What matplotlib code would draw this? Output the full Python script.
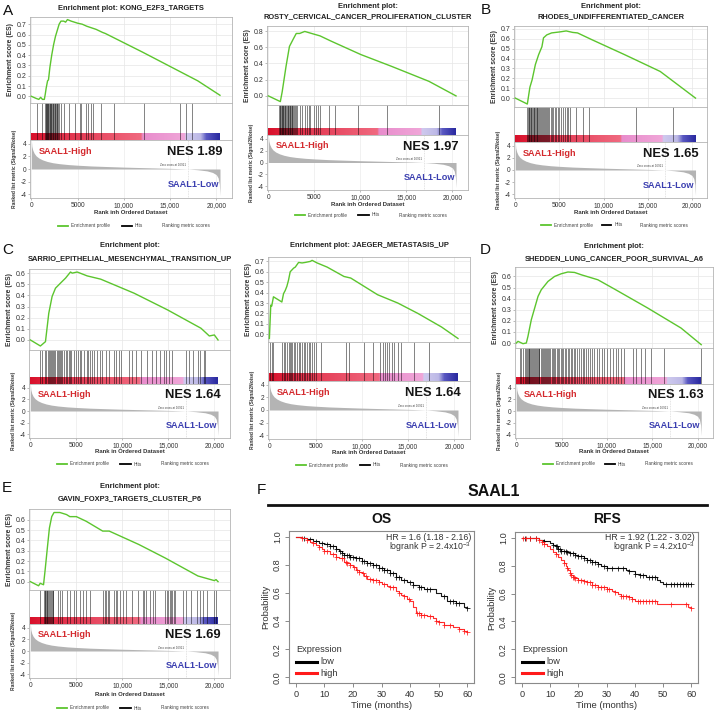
import numpy as np
import matplotlib
matplotlib.use('Agg')
import matplotlib.pyplot as plt
from matplotlib.colors import LinearSegmentedColormap
from matplotlib.lines import Line2D

plt.rcParams['font.family'] = ['Liberation Sans', 'DejaVu Sans']
plt.rcParams['mathtext.fontset'] = 'custom'
plt.rcParams['mathtext.rm'] = 'Liberation Sans'
plt.rcParams['mathtext.it'] = 'Liberation Sans:italic'
plt.rcParams['mathtext.bf'] = 'Liberation Sans:bold'

# ------------------------------------------------------------------ data
N_GENES = 20400
ZERO_CROSS = 16921
xtick_vals = [0, 5000, 10000, 15000, 20000]
xtick_labels = ['0', '5000', '10,000', '15,000', '20,000']

metric_rank = [0, 50, 150, 300, 500, 800, 1200, 1700, 2300, 3000, 4000, 5000, 6500,
               8000, 10000, 12000, 14000, 15500, 16921, 18000, 19000, 19600, 20000,
               20200, 20330, 20400]
metric_val = [4.6, 3.6, 3.0, 2.5, 2.1, 1.75, 1.45, 1.2, 1.0, 0.85, 0.7, 0.6, 0.48,
              0.4, 0.3, 0.22, 0.14, 0.08, 0.0, -0.12, -0.3, -0.55, -0.9,
              -1.4, -2.4, -4.2]

kong_x = [0, 500, 800, 1000, 1200, 1400, 1500, 1600, 1750, 1850, 2000, 2200, 2400, 2600,
          2800, 3000, 3200, 3500, 3700, 3900, 4300, 5000, 5500, 6000, 7000, 7700, 8000,
          10000, 12000, 15000, 18000, 20400]
kong_es = [0.0, -0.02, -0.03, -0.01, -0.03, -0.03, 0.02, 0.08, 0.15, 0.16, 0.28, 0.40, 0.50,
           0.58, 0.64, 0.70, 0.73, 0.73, 0.72, 0.745, 0.73, 0.71, 0.70, 0.68, 0.65, 0.62,
           0.61, 0.52, 0.43, 0.29, 0.15, 0.01]
kong_hits = [575, 1190, 1475, 1530, 1590, 1650, 1720, 1780, 1850, 1910, 1980, 2040, 2110,
             2170, 2240, 2300, 2380, 2450, 2520, 2590, 2660, 2740, 2810, 2880, 2985, 3165,
             3525, 4065, 4675, 5215, 5395, 5865, 6115, 6475, 6655, 7480, 8990, 12230,
             16040, 16730, 17375]

rosty_x = [0, 1300, 1500, 1920, 2290, 2700, 3030, 3400, 3955, 4700, 5620, 6730, 10050,
           13380, 17450, 20400]
rosty_es = [0.0, -0.07, 0.05, 0.365, 0.61, 0.70, 0.77, 0.77, 0.795, 0.77, 0.74, 0.68, 0.51,
            0.365, 0.18, 0.0]
rosty_hits = [1150, 1220, 1290, 1360, 1430, 1500, 1570, 1640, 1710, 1790, 1860, 1930, 2000,
              2080, 2150, 2230, 2300, 2380, 2460, 2540, 2620, 2700, 2790, 2870, 2950, 3130,
              3420, 3670, 4030, 4210, 4460, 4570, 4930, 5180, 5360, 5650, 6550, 7190, 9780,
              12910, 18600]

rhodes_x = [0, 1360, 1650, 1900, 2270, 2640, 3010, 3190, 3560, 4110, 5030, 5760, 6500,
            7040, 8700, 12370, 16400, 20400]
rhodes_es = [0.0, -0.06, 0.11, 0.185, 0.34, 0.44, 0.52, 0.61, 0.64, 0.66, 0.67, 0.68, 0.665,
             0.66, 0.59, 0.44, 0.27, 0.0]
rhodes_hits = [1360, 1450, 1520, 1600, 1680, 1750, 1830, 1900, 1990, 2070, 2150, 2240, 2330,
               2420, 2500, 2600, 2700, 2790, 2880, 2980, 3080, 3200, 3320, 3450, 3570, 3700,
               3850, 4000, 4150, 4300, 4450, 4620, 4800, 5000, 5200, 5400, 5600, 5800, 6000,
               6140, 6875, 7680, 8345, 13680, 17900]

sarrio_x = [0, 1090, 1640, 2000, 2360, 2730, 3270, 3820, 4360, 4550, 5090, 6180, 7640,
            11270, 14910, 18550, 19450, 20000, 20400]
sarrio_es = [0.0, -0.054, -0.015, 0.24, 0.39, 0.465, 0.51, 0.555, 0.61, 0.60, 0.61, 0.575,
             0.546, 0.42, 0.27, 0.105, 0.036, 0.045, 0.0]
sarrio_hits = [1020, 1270, 1560, 1750, 1890, 2000, 2110, 2250, 2360, 2470, 2620, 2730, 2840,
               2980, 3090, 3200, 3350, 3450, 3640, 3820, 4000, 4180, 4360, 4470, 4730, 4910,
               5160, 5380, 5530, 5820, 6110, 6250, 6470, 6730, 6910, 7200, 7560, 7820, 8180,
               8550, 9090, 9270, 9640, 9820, 10730, 11090, 11450, 12000, 12730, 13270, 13640,
               14110, 14550, 14730, 15090, 15350, 16910, 17270, 17640, 18180, 18470, 18910,
               18980]

jaeger_x = [0, 150, 250, 440, 1350, 1530, 1710, 1890, 2070, 2250, 2620, 2800, 3160, 3530,
            3890, 4440, 4620, 5160, 6250, 8070, 8800, 10250, 11700, 13890, 16070, 18620,
            20400]
jaeger_es = [-0.04, 0.28, 0.27, 0.36, 0.31, 0.39, 0.42, 0.46, 0.52, 0.60, 0.635, 0.645,
             0.69, 0.685, 0.69, 0.70, 0.71, 0.685, 0.645, 0.555, 0.54, 0.46, 0.38, 0.30,
             0.20, 0.07, -0.04]
jaeger_hits = [70, 250, 440, 1350, 1530, 1710, 1890, 2070, 2180, 2330, 2440, 2620, 2800,
               2980, 3160, 3350, 3530, 3710, 3890, 4070, 4250, 4440, 4620, 4870, 5090, 5530,
               8250, 8620, 10250, 11160, 12000, 12250, 12510, 12730, 12980, 13240, 13530,
               13890, 14250, 15600, 17270]

shedden_x = [0, 180, 730, 1100, 1280, 1650, 2020, 2390, 2750, 3490, 4220, 4950, 5690, 6420,
             7160, 8990, 10830, 14500, 18170, 20400]
shedden_es = [0.0, 0.015, -0.006, 0.0, 0.06, 0.21, 0.315, 0.42, 0.48, 0.555, 0.60, 0.624,
              0.64, 0.636, 0.615, 0.57, 0.486, 0.315, 0.135, -0.015]
shedden_hits = [370, 550, 700, 900, 1050, 1150, 1250, 1350, 1450, 1550, 1650, 1750, 1850,
                1950, 2050, 2150, 2250, 2350, 2450, 2550, 2700, 2800, 2900, 3000, 3150, 3250,
                3400, 3500, 3650, 3750, 3900, 4000, 4150, 4300, 4450, 4600, 4750, 4900, 5050,
                5200, 5350, 5500, 5650, 5800, 6000, 6150, 6350, 6500, 6700, 6900, 7100, 7300,
                7500, 7700, 7900, 8100, 8350, 8600, 8850, 9100, 9400, 9700, 10000, 10300,
                10640, 11010, 11270, 11560, 11850, 12840, 13210, 13760, 14240, 14860, 16330,
                20370]

gavin_x = [0, 890, 1070, 1430, 1600, 1860, 2070, 2320, 2570, 3210, 3930, 4290, 5000, 6070,
           7860, 8570, 11790, 14640, 18210, 20000, 20180, 20400]
gavin_es = [0.0, -0.04, -0.016, -0.03, 0.11, 0.34, 0.52, 0.63, 0.67, 0.67, 0.65, 0.63, 0.63,
            0.585, 0.49, 0.49, 0.36, 0.23, 0.055, 0.01, 0.02, 0.0]
gavin_hits = [1000, 1430, 1540, 1610, 1710, 1790, 1860, 1960, 2070, 2140, 2210, 2320, 2430,
              2500, 3040, 3210, 3390, 3930, 4290, 4710, 4930, 5430, 5710, 6000, 6430, 7930,
              8140, 8210, 8390, 8570, 9110, 9290, 9460, 9710, 10070, 10360, 11070, 11710,
              12210, 12390, 12570, 13040, 13290, 13570, 14640, 14820, 15000, 15180, 15290,
              15430, 15640, 15710, 16610, 16960, 17500, 18140, 18390, 18750, 19210, 19930,
              20180]

nes_values = {'kong': 1.89, 'rosty': 1.97, 'rhodes': 1.65, 'sarrio': 1.64,
              'jaeger': 1.64, 'shedden': 1.63, 'gavin': 1.69}

# Kaplan-Meier (time in months, survival probability)
os_low_t = [0, 2, 4, 6, 8, 10, 12, 14, 15, 16, 17, 19, 21, 23, 25, 27, 29, 31, 33, 35, 37,
            39, 41, 43, 45, 47, 49, 51, 53, 56, 59, 60]
os_low_s = [1.0, 0.99, 0.98, 0.97, 0.955, 0.945, 0.93, 0.91, 0.90, 0.885, 0.87, 0.855, 0.845,
            0.83, 0.815, 0.80, 0.78, 0.765, 0.74, 0.71, 0.695, 0.68, 0.655, 0.64, 0.63,
            0.625, 0.60, 0.58, 0.545, 0.53, 0.50, 0.49]
os_low_c = [3, 5, 7, 9, 11, 12, 13, 14, 15.5, 16, 17, 18, 18.5, 19, 20, 21, 22, 23, 24, 25,
            26, 27, 28, 29, 30, 31, 32, 33, 34, 35, 36, 38, 40, 41, 43, 44, 46, 47, 52, 54,
            55, 56, 57, 60]
os_high_t = [0, 2, 4, 5, 6, 7, 8, 9, 10, 12, 14, 15, 17, 18, 19, 20, 21, 22, 23, 24, 25, 27,
             29, 30, 32, 33, 35, 36, 37, 38, 39, 40, 41, 42, 44, 46, 48, 49, 50, 52, 55, 57,
             59, 60]
os_high_s = [1.0, 0.99, 0.975, 0.965, 0.955, 0.94, 0.925, 0.91, 0.90, 0.875, 0.855, 0.845,
             0.82, 0.81, 0.795, 0.785, 0.765, 0.75, 0.74, 0.72, 0.70, 0.69, 0.675, 0.665,
             0.65, 0.64, 0.615, 0.60, 0.585, 0.575, 0.56, 0.54, 0.50, 0.46, 0.445, 0.435,
             0.42, 0.40, 0.39, 0.37, 0.36, 0.345, 0.33, 0.32]
os_high_c = [2, 4, 6, 8, 10, 11, 13, 14, 16, 17.5, 18, 19, 20.5, 21.5, 22, 23.5, 24.5, 26, 27,
             28, 29, 31, 33, 34, 36, 38, 39.5, 42.5, 43, 44, 45, 47, 49, 50, 52, 54, 57, 59, 60]

rfs_low_t = [0, 4, 6, 8, 10, 11, 12, 13, 14, 16, 17, 19, 20, 22, 23, 25, 27, 28, 30, 35, 37,
             38, 40, 42, 44, 48, 49, 50, 60]
rfs_low_s = [1.0, 0.995, 0.985, 0.975, 0.96, 0.95, 0.937, 0.92, 0.906, 0.895, 0.89, 0.875,
             0.866, 0.855, 0.843, 0.827, 0.81, 0.796, 0.785, 0.78, 0.77, 0.76, 0.738, 0.73,
             0.72, 0.70, 0.685, 0.667, 0.667]
rfs_low_c = [1, 3, 5, 8, 11, 12, 12.5, 13, 13.5, 14, 15, 15.5, 16, 17, 18, 19, 20, 21, 22, 23,
             24, 25, 26, 27, 29, 30, 32, 34, 36, 38, 40, 42, 43, 45, 46, 47, 51, 53, 54, 55,
             56, 57, 58, 59, 60]
rfs_high_t = [0, 5, 6, 7, 8, 9, 10, 11, 12, 13, 14, 15, 15.5, 16, 16.5, 17, 17.5, 18, 19, 20,
              22, 23, 25, 27, 28, 30, 32, 33, 34, 35, 38, 39, 40, 45, 48, 59, 60]
rfs_high_s = [1.0, 0.995, 0.985, 0.972, 0.955, 0.937, 0.92, 0.90, 0.88, 0.86, 0.84, 0.82,
              0.80, 0.785, 0.77, 0.75, 0.735, 0.72, 0.71, 0.70, 0.69, 0.68, 0.663, 0.65,
              0.644, 0.632, 0.62, 0.609, 0.60, 0.585, 0.574, 0.56, 0.55, 0.545, 0.527, 0.503,
              0.496]
rfs_high_c = [0.5, 1.5, 3, 5, 6, 7, 8, 12, 15, 16, 17, 17.5, 18, 18.5, 19, 20, 21, 22, 23, 24,
              25, 26, 27, 28, 29, 30, 31, 33, 35, 36, 37, 38, 39, 41, 42, 43, 44, 45, 46, 47,
              53, 58, 60]

# ------------------------------------------------------------------ layout
W, H = 720, 716
fig = plt.figure(figsize=(W / 100, H / 100), dpi=100)
fig.patch.set_facecolor('white')

GREEN = '#5cc52e'
RED_TXT = '#d42a2e'
BLUE_TXT = '#3b3fb0'
FRAME = '#b4b4b4'
XLIM = (-150, 21700)

bar_cmap = LinearSegmentedColormap.from_list('gsea_bar', [
    (0.00, '#d8102a'), (0.12, '#e02a44'), (0.35, '#e84a62'), (0.585, '#f06a80'),
    (0.59, '#e88ccc'), (0.815, '#f0a6d8'), (0.82, '#cfcaee'), (0.90, '#bcb8e6'),
    (0.915, '#8c8ad4'), (0.93, '#5a58c2'), (1.00, '#2a2aa0')])


def ax_px(x0, y0, x1, y1):
    return fig.add_axes([x0 / W, 1 - y1 / H, (x1 - x0) / W, (y1 - y0) / H])


def style_spines(ax, color=FRAME, lw=0.6):
    for s in ax.spines.values():
        s.set_color(color)
        s.set_linewidth(lw)


GEOM = {
    'kong':    dict(L=30, R=232, title_y=[8], es_top=17, es_bot=103, bar_top=133, bar_bot=140,
                    rank_bot=198, xlab_y=213, leg_y=226),
    'rosty':   dict(L=267, R=468, title_y=[6, 17], es_top=26, es_bot=105, bar_top=128,
                    bar_bot=135, rank_bot=190, xlab_y=204, leg_y=215),
    'rhodes':  dict(L=514, R=707, title_y=[6, 17], es_top=26, es_bot=107, bar_top=135,
                    bar_bot=142, rank_bot=198, xlab_y=213, leg_y=225),
    'sarrio':  dict(L=29, R=230, title_y=[246, 259], es_top=269, es_bot=350, bar_top=377,
                    bar_bot=384, rank_bot=438, xlab_y=452, leg_y=464),
    'jaeger':  dict(L=268, R=470, title_y=[246], es_top=257, es_bot=342, bar_top=373,
                    bar_bot=381, rank_bot=439, xlab_y=453, leg_y=465),
    'shedden': dict(L=515, R=713, title_y=[247, 259], es_top=267, es_bot=348, bar_top=377,
                    bar_bot=384, rank_bot=438, xlab_y=452, leg_y=464),
    'gavin':   dict(L=29, R=230, title_y=[487, 499], es_top=509, es_bot=590, bar_top=617,
                    bar_bot=624, rank_bot=678, xlab_y=695, leg_y=708),
}


def gsea_panel(key, title_lines, es_x, es_y, es_ylim, es_ticks, hits, xlabel):
    g = GEOM[key]
    L, R = g['L'], g['R']
    cx = (L + R) / 2
    for ty, line in zip(g['title_y'], title_lines):
        fig.text(cx / W, 1 - ty / H, line, ha='center', va='center', fontsize=5.4,
                 fontweight='bold', color='#222222')

    # enrichment score
    ax = ax_px(L, g['es_top'], R, g['es_bot'])
    ax.plot(es_x, es_y, color=GREEN, lw=1.0, solid_joinstyle='round', zorder=3)
    ax.set_xlim(XLIM)
    ax.set_ylim(es_ylim)
    ax.set_xticks(xtick_vals)
    ax.set_xticklabels([])
    ax.set_yticks(es_ticks)
    ax.set_yticklabels([f'{t:.1f}' for t in es_ticks])
    ax.tick_params(axis='x', length=0)
    ax.tick_params(axis='y', length=1.5, width=0.4, labelsize=5.0, pad=1.2,
                   colors='#888888', labelcolor='#333333')
    ax.grid(True, color='#e6e6e6', lw=0.5)
    ax.set_axisbelow(True)
    style_spines(ax)
    ax.set_ylabel('Enrichment score (ES)', fontsize=4.9, fontweight='bold',
                  labelpad=1.5, color='#333333')

    # hits + colour bar
    axh = ax_px(L, g['es_bot'], R, g['bar_bot'])
    frac = (g['bar_bot'] - g['bar_top']) / (g['bar_bot'] - g['es_bot'])
    axh.set_xlim(XLIM)
    axh.set_ylim(0, 1)
    axh.imshow(np.linspace(0, 1, 600)[None, :], cmap=bar_cmap, aspect='auto',
               extent=(0, N_GENES, 0, frac), interpolation='bilinear', zorder=1)
    axh.vlines(hits, 0, 1, colors='black', lw=0.55, alpha=0.62, zorder=2)
    axh.set_xticks([])
    axh.set_yticks([])
    style_spines(axh)

    # ranked list metric
    axr = ax_px(L, g['bar_bot'], R, g['rank_bot'])
    axr.fill_between(metric_rank, metric_val, 0, color='#b4b4b4', lw=0, zorder=2)
    axr.axvline(ZERO_CROSS, color='#c8c8c8', ls=(0, (1.5, 1.5)), lw=0.4, zorder=1)
    axr.set_xlim(XLIM)
    axr.set_ylim(-4.6, 4.6)
    axr.set_yticks([4, 2, 0, -2, -4])
    axr.set_yticklabels(['4', '2', '0', '-2', '-4'])
    axr.set_xticks(xtick_vals)
    axr.set_xticklabels(xtick_labels)
    axr.tick_params(axis='both', length=1.5, width=0.4, labelsize=4.8, pad=1.2,
                    colors='#888888', labelcolor='#333333')
    axr.grid(True, axis='x', color='#ececec', lw=0.5)
    axr.set_axisbelow(True)
    style_spines(axr)
    axr.set_ylabel('Ranked list metric (Signal2Noise)', fontsize=3.5, fontweight='bold',
                   labelpad=2.5, color='#333333')
    axr.text(ZERO_CROSS - 200, 0.25, 'Zero cross at 16921', fontsize=2.1, ha='right',
             va='bottom', color='#444444')
    axr.text(0.045, 0.80, 'SAAL1-High', transform=axr.transAxes, fontsize=6.6,
             fontweight='bold', color=RED_TXT, ha='left', va='center')
    axr.text(0.955, 0.79, f'NES {nes_values[key]:.2f}', transform=axr.transAxes,
             fontsize=9.4, fontweight='bold', color='#151515', ha='right', va='center')
    axr.text(0.935, 0.23, 'SAAL1-Low', transform=axr.transAxes, fontsize=6.6,
             fontweight='bold', color=BLUE_TXT, ha='right', va='center')

    fig.text(cx / W, 1 - g['xlab_y'] / H, xlabel, ha='center', va='center',
             fontsize=4.3, fontweight='bold', color='#333333')

    # legend
    wpx = R - L
    ly = 1 - g['leg_y'] / H
    fig.add_artist(Line2D([(L + 0.14 * wpx) / W, (L + 0.19 * wpx) / W], [ly, ly],
                          color=GREEN, lw=1.3))
    fig.text((L + 0.205 * wpx) / W, ly, 'Enrichment profile', fontsize=3.4,
             ha='left', va='center', color='#444444')
    fig.add_artist(Line2D([(L + 0.455 * wpx) / W, (L + 0.505 * wpx) / W], [ly, ly],
                          color='black', lw=1.3))
    fig.text((L + 0.52 * wpx) / W, ly, 'Hits', fontsize=3.4, ha='left', va='center',
             color='#444444')
    fig.text((L + 0.655 * wpx) / W, ly, 'Ranking metric scores', fontsize=3.4,
             ha='left', va='center', color='#444444')


gsea_panel('kong', ['Enrichment plot: KONG_E2F3_TARGETS'], kong_x, kong_es,
           (-0.065, 0.77), [0.0, 0.1, 0.2, 0.3, 0.4, 0.5, 0.6, 0.7], kong_hits,
           'Rank inh Ordered Dataset')
gsea_panel('rosty', ['Enrichment plot:', 'ROSTY_CERVICAL_CANCER_PROLIFERATION_CLUSTER'],
           rosty_x, rosty_es, (-0.112, 0.862), [0.0, 0.2, 0.4, 0.6, 0.8], rosty_hits,
           'Rank inh Ordered Dataset')
gsea_panel('rhodes', ['Enrichment plot:', 'RHODES_UNDIFFERENTIATED_CANCER'],
           rhodes_x, rhodes_es, (-0.09, 0.73), [0.0, 0.1, 0.2, 0.3, 0.4, 0.5, 0.6, 0.7],
           rhodes_hits, 'Rank inh Ordered Dataset')
gsea_panel('sarrio', ['Enrichment plot:', 'SARRIO_EPITHELIAL_MESENCHYMAL_TRANSITION_UP'],
           sarrio_x, sarrio_es, (-0.09, 0.637), [0.0, 0.1, 0.2, 0.3, 0.4, 0.5, 0.6],
           sarrio_hits, 'Rank in Ordered Dataset')
gsea_panel('jaeger', ['Enrichment plot: JAEGER_METASTASIS_UP'], jaeger_x, jaeger_es,
           (-0.074, 0.742), [0.0, 0.1, 0.2, 0.3, 0.4, 0.5, 0.6, 0.7], jaeger_hits,
           'Rank inh Ordered Dataset')
gsea_panel('shedden', ['Enrichment plot:', 'SHEDDEN_LUNG_CANCER_POOR_SURVIVAL_A6'],
           shedden_x, shedden_es, (-0.045, 0.685), [0.0, 0.1, 0.2, 0.3, 0.4, 0.5, 0.6],
           shedden_hits, 'Rank in Ordered Dataset')
gsea_panel('gavin', ['Enrichment plot:', 'GAVIN_FOXP3_TARGETS_CLUSTER_P6'],
           gavin_x, gavin_es, (-0.081, 0.704), [0.0, 0.1, 0.2, 0.3, 0.4, 0.5, 0.6],
           gavin_hits, 'Rank in Ordered Dataset')

# panel letters
for letter, (lx, lyy) in {'A': (3, 11), 'B': (481, 10), 'C': (2, 250), 'D': (480, 250),
                          'E': (2, 488), 'F': (257, 490)}.items():
    fig.text(lx / W, 1 - lyy / H, letter, fontsize=11, ha='left', va='center',
             color='#111111')

# ------------------------------------------------------------------ KM panels
KM_RED = '#ff1a1a'
fig.add_artist(Line2D([268 / W, 707 / W], [1 - 505 / H] * 2, color='#111111', lw=2.0))
fig.text(494 / W, 1 - 491 / H, 'SAAL1', fontsize=11.5, fontweight='bold', ha='center',
         va='center', color='#111111')


def km_panel(rect, title, low, high, hr_text, p_text):
    x0, y0, x1, y1 = rect
    ax = ax_px(x0, y0, x1, y1)
    for (t, s, c), col in [(low, 'black'), (high, KM_RED)]:
        t = np.asarray(t, float)
        s = np.asarray(s, float)
        ax.step(t, s, where='post', color=col, lw=0.8, alpha=0.9)
        idx = np.searchsorted(t, np.asarray(c, float), side='right') - 1
        ax.plot(c, s[idx], ls='none', marker='+', ms=3.6, mew=0.6, color=col, alpha=0.9)
    ax.set_xlim(-2.4, 62.4)
    ax.set_ylim(-0.04, 1.04)
    ax.set_xticks([0, 10, 20, 30, 40, 50, 60])
    ax.set_yticks([0.0, 0.2, 0.4, 0.6, 0.8, 1.0])
    ax.set_yticklabels(['0.0', '0.2', '0.4', '0.6', '0.8', '1.0'], rotation=90,
                       va='center')
    ax.tick_params(axis='both', length=3, width=0.6, labelsize=6.6, pad=2,
                   colors='#777777', labelcolor='#333333')
    style_spines(ax, '#8a8a8a', 0.8)
    ax.set_xlabel('Time (months)', fontsize=6.8, color='#333333', labelpad=1.5)
    ax.set_ylabel('Probability', fontsize=6.8, color='#333333', labelpad=2)
    fig.text((x0 + x1) / 2 / W, 1 - 519 / H, title, fontsize=10, fontweight='bold',
             ha='center', va='center', color='#111111')
    fig.text((x1 - 3) / W, 1 - 537 / H, hr_text, fontsize=6.3, ha='right', va='center',
             color='#333333')
    fig.text((x1 - 3) / W, 1 - 547.5 / H, p_text, fontsize=6.3, ha='right', va='center',
             color='#333333')
    lx = x0 + 7
    fig.text(lx / W, 1 - 650 / H, 'Expression', fontsize=6.6, ha='left', va='center',
             color='#333333')
    for yy, col, lab in [(662, 'black', 'low'), (673, KM_RED, 'high')]:
        fig.add_artist(Line2D([lx / W, (lx + 21) / W], [1 - yy / H] * 2, color=col, lw=2.2))
        fig.text((lx + 24) / W, 1 - yy / H, lab, fontsize=6.6, ha='left', va='center',
                 color='#333333')


km_panel((289, 531, 474, 683), 'OS',
         (os_low_t, os_low_s, os_low_c), (os_high_t, os_high_s, os_high_c),
         'HR = 1.6 (1.18 - 2.16)', r'logrank P = 2.4x10$^{-3}$')
km_panel((515, 532, 698, 683), 'RFS',
         (rfs_low_t, rfs_low_s, rfs_low_c), (rfs_high_t, rfs_high_s, rfs_high_c),
         'HR = 1.92 (1.22 - 3.02)', r'logrank P = 4.2x10$^{-3}$')

fig.savefig('out.png', dpi=100, facecolor='white')
